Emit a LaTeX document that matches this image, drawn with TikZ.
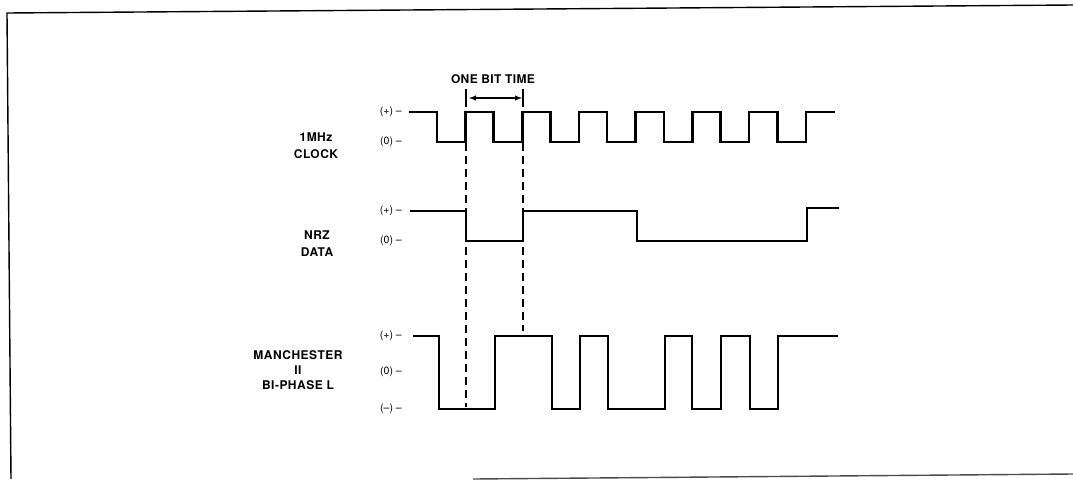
\documentclass[tikz,border=0pt]{standalone}
\usepackage{fontspec}
\setmainfont{TeX Gyre Heros}
\usetikzlibrary{positioning}

\begin{document}
\begin{tikzpicture}
[x=1pt,y=-1pt,%
  wave/.style={line width=2.6pt,line join=miter,line cap=butt},%
  guide/.style={line width=1.4pt,dash pattern=on 8pt off 5pt},%
  frameLine/.style={line width=1.4pt},%
  levelLabel/.style={anchor=east,inner sep=0pt,font=\fontsize{10.5}{12}\selectfont},%
  signalName/.style={align=center,inner sep=0pt,
    font=\fontsize{12}{17}\selectfont\bfseries\addfontfeature{LetterSpace=4}}]
\useasboundingbox (0,0) rectangle (1073,479);
%% frame
\draw[frameLine] (11,479) -- (7,13) -- (1073,5);
\draw[frameLine,black!70] (473,479) -- (1073,474);
%% signal names
\node[signalName] (clkName) at (316,146) {1MHz\\CLOCK};
\node[signalName] (nrzName) at (317,244) {NRZ\\DATA};
\node[signalName,font=\fontsize{12}{15}\selectfont\bfseries\addfontfeature{LetterSpace=4}]
  (manName) at (298,370) {MANCHESTER\\II\\BI-PHASE L};
%% level labels
\foreach \lname/\y/\txt in {
  clkHi/112/(+) --, clkLo/142/(0) --,
  nrzHi/211/(+) --, nrzLo/241/(0) --,
  manHi/336/(+) --, manMid/372/(0) --, manLo/409/(--) --}
{
  \node[levelLabel] (\lname) at (402,\y) {\txt};
}
%% clock
\draw[wave] (409,112)
  \foreach \k in {0,...,6} {
    -- ({437+56.7*\k},112) -- ++(0,30) -- ++(28.6,0) -- ++(0,-30)
  } -- (835,112);
%% nrz data
\draw[wave] (410,211) -- (466,211) -- (466,241) -- (523,241) -- (523,211)
  -- (637,211) -- (637,241) -- (807,241) -- (807,208) -- (839,208);
%% manchester
\draw[wave] (413,336) -- (439,336) -- (439,409) -- (495,409) -- (495,336)
  -- (552,336) -- (552,409) -- (580,409) -- (580,336) -- (608,336)
  -- (608,409) -- (665,409) -- (665,336) -- (692,336) -- (692,409)
  -- (721,409) -- (721,336) -- (750,336) -- (750,409) -- (778,409)
  -- (778,336) -- (838,336);
%% one bit time
\coordinate (bitA) at (466,143);
\coordinate (bitB) at (523,143);
\coordinate (bitAend) at (466,407);
\coordinate (bitBend) at (523,331);
\draw[guide] (bitA) -- (bitAend);
\draw[guide] (bitB) -- (bitBend);
\coordinate (tickA) at (466,98);
\coordinate (tickB) at (523,98);
\draw[line width=1.4pt] (466,89) -- (466,107) (523,89) -- (523,107);
\draw[latex-latex,line width=1.4pt,shorten <=3pt,shorten >=1pt] (tickA) -- (tickB);
\node[font=\fontsize{12}{14}\selectfont\bfseries\addfontfeature{LetterSpace=3}]
  (bitTime) at (493,79) {ONE BIT TIME};
\end{tikzpicture}
\end{document}
